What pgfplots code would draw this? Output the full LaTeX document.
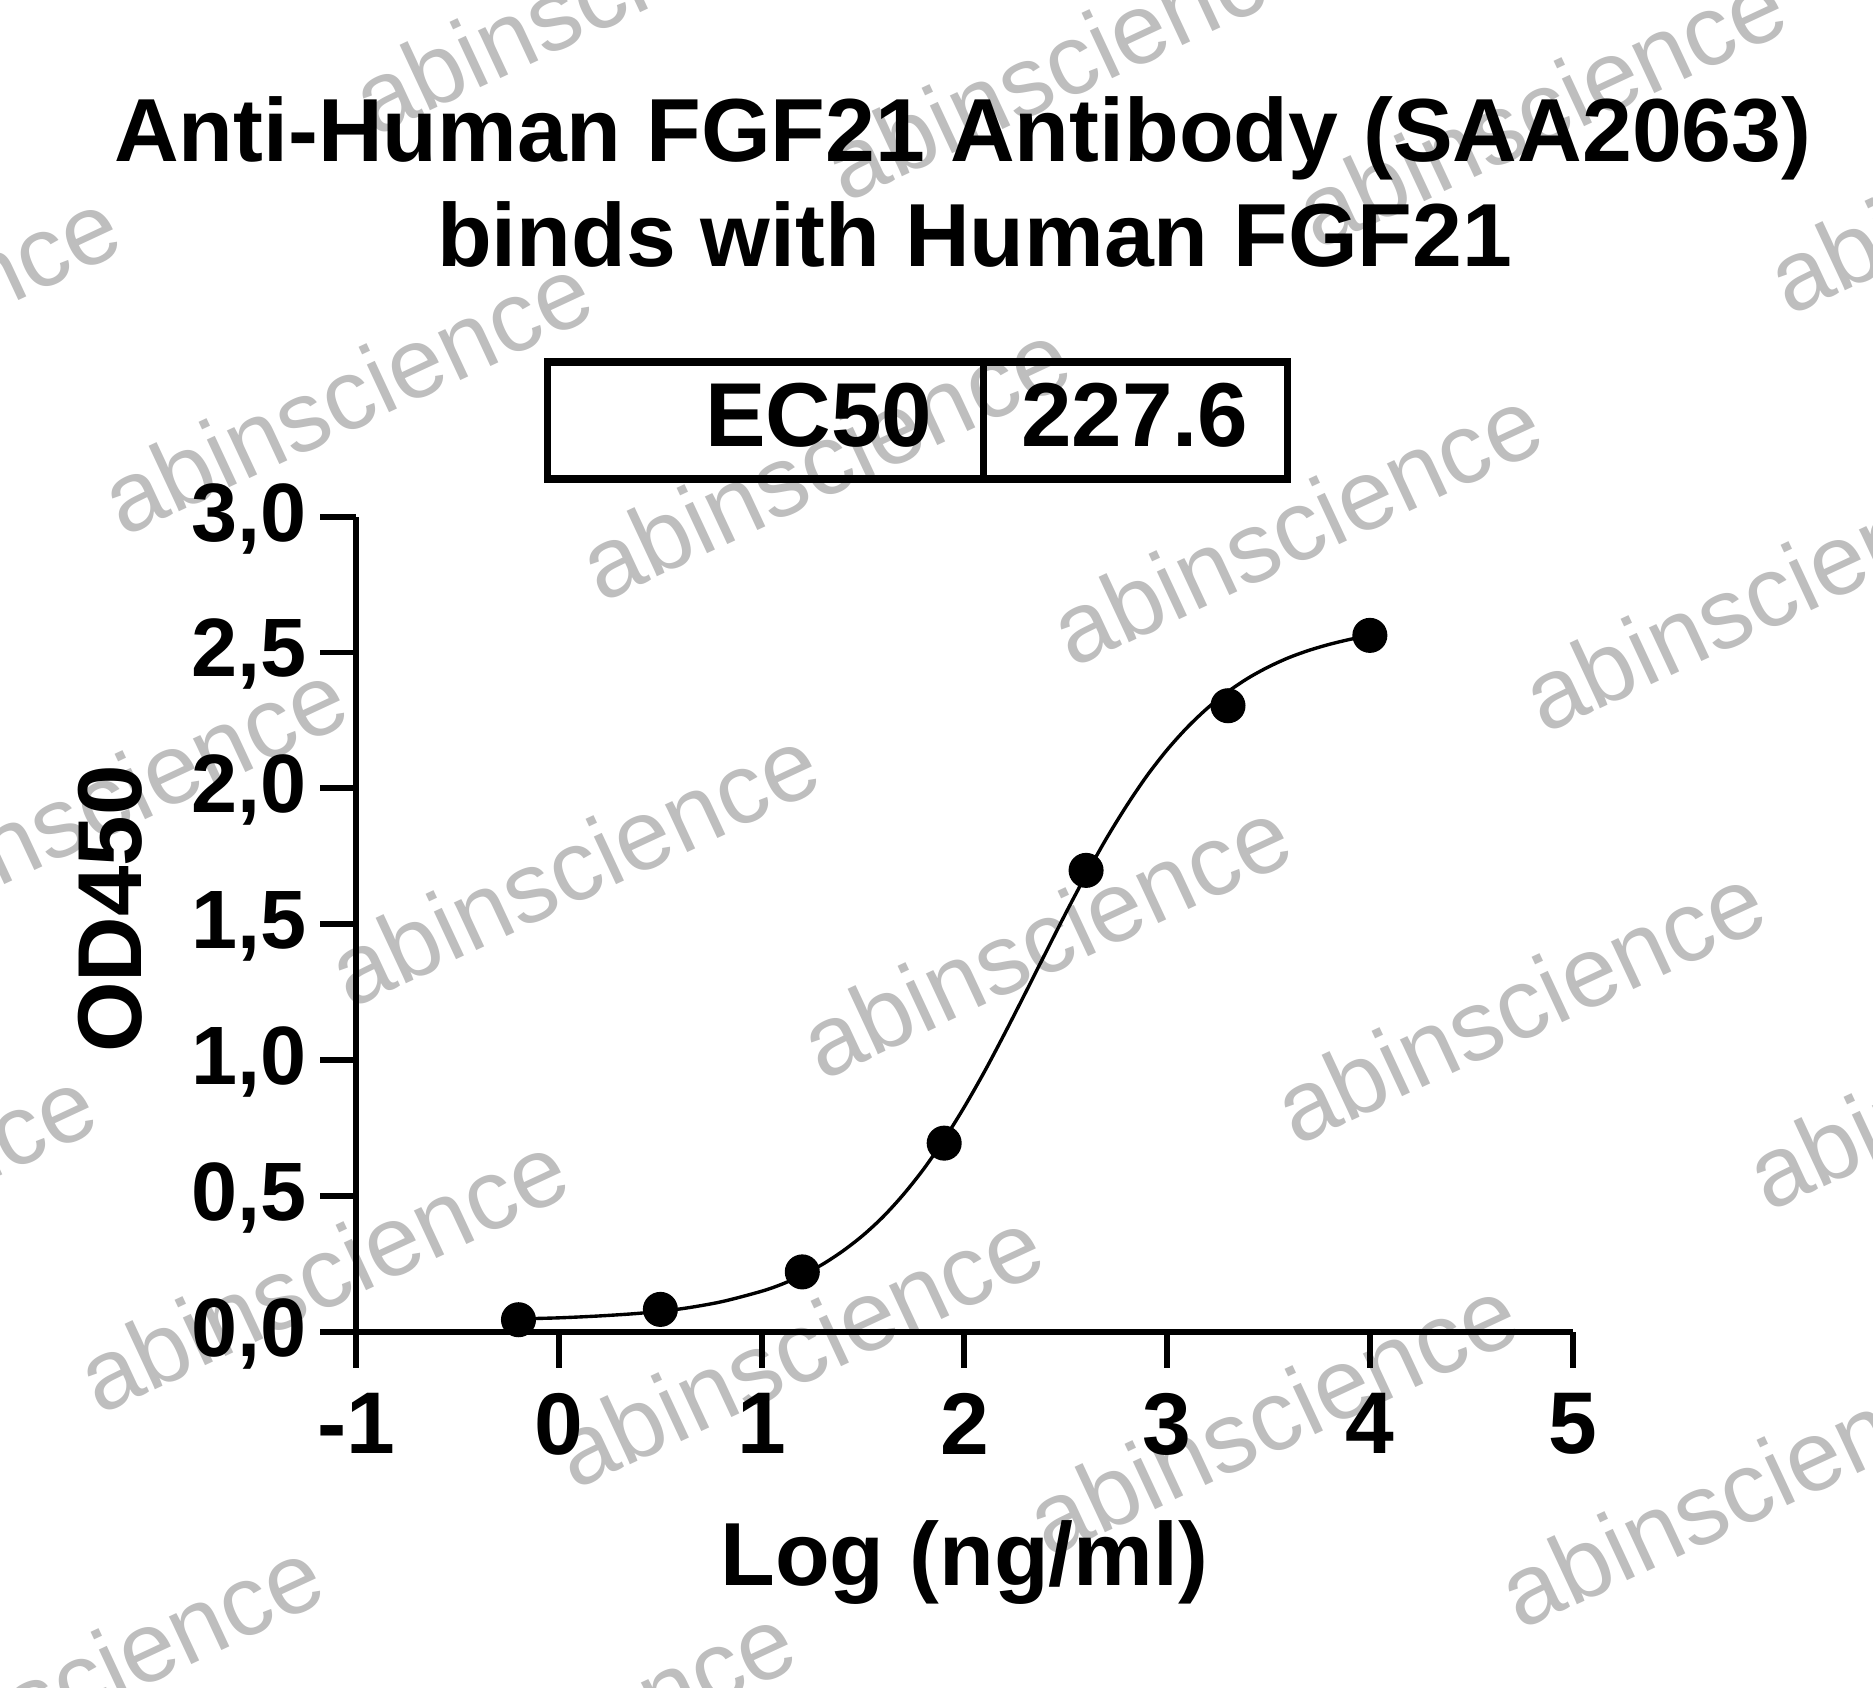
\documentclass[border=0pt]{standalone}
\usepackage{fontspec}
\setmainfont{Liberation Sans}
\usepackage{pgfplots}
\pgfplotsset{compat=1.18}
\definecolor{wm}{RGB}{190,190,190}
\begin{document}
\begin{tikzpicture}
\useasboundingbox (0,0) rectangle (470.4pt,-423.9pt);
% watermark
\begin{scope}
\clip (0,0) rectangle (470.4pt,-423.9pt);
\foreach \cx/\cy in {500/-5, 895/50, 1290/90, 1685/145,
  -105/275, 290/330, 690/385, 1085/440, 1480/495,
  85/670, 480/725, 875/785, 1272/840, 1667/895,
  -125/1010, 270/1065, 668/1128, 1065/1185, 1460/1245,
  65/1405, 460/1460, 855/1515}{
  \node[rotate=25, text=wm, inner sep=0pt, font=\fontsize{25}{30}\selectfont] at ({\cx*0.3pt},{(-1)*(\cy)*0.3pt}) {abinscience};
}
\end{scope}
\begin{axis}[
  at={(89.49pt,-334.44pt)}, anchor=south west,
  scale only axis, width=305.46pt, height=204.69pt,
  xmin=-1, xmax=5, ymin=0, ymax=3,
  axis x line*=bottom, axis y line*=left,
  axis line style={line width=1.5pt},
  every tick/.style={black, line width=1.5pt},
  tick align=outside, major tick length=9pt,
  xtick={-1,0,1,2,3,4,5}, xticklabels={-1,0,1,2,3,4,5},
  ytick={0,0.5,1,1.5,2,2.5,3},
  yticklabels={{0,0},{0,5},{1,0},{1,5},{2,0},{2,5},{3,0}},
  xticklabel style={font=\fontsize{22}{26}\selectfont\bfseries, yshift=-3pt},
  yticklabel style={font=\fontsize{20.8}{24}\selectfont\bfseries, yshift=-0.5pt},
  clip=false,
]
\addplot[smooth, black, line width=0.85pt, no marks] coordinates {
(-0.2,0.047) (0.0,0.051) (0.2,0.058) (0.4,0.068) (0.6,0.084) (0.8,0.110)
(1.0,0.149) (1.1,0.175) (1.2,0.208) (1.3,0.248) (1.4,0.297) (1.5,0.355)
(1.6,0.424) (1.7,0.506) (1.8,0.600) (1.9,0.708) (2.0,0.828) (2.1,0.959)
(2.2,1.100) (2.3,1.246) (2.4,1.394) (2.5,1.541) (2.6,1.682) (2.7,1.815)
(2.8,1.936) (2.9,2.046) (3.0,2.142) (3.1,2.225) (3.2,2.296) (3.3,2.356)
(3.4,2.406) (3.5,2.447) (3.6,2.481) (3.7,2.508) (3.8,2.530) (3.9,2.548)
(4.0,2.563)
};
\addplot[only marks, mark=*, mark size=4.2pt, black] coordinates {
(-0.2,0.044) (0.5,0.082) (1.2,0.220) (1.9,0.694) (2.6,1.698) (3.3,2.304) (4.0,2.563)
};
\end{axis}
% title
\node[anchor=base, inner sep=0pt, font=\fontsize{22.5}{27}\selectfont\bfseries] at (241.8pt,-40.62pt) {Anti-Human FGF21 Antibody (SAA2063)};
\node[anchor=base, inner sep=0pt, font=\fontsize{22.5}{27}\selectfont\bfseries] at (244.8pt,-66.99pt) {binds with Human FGF21};
% EC50 box
\draw[line width=1.8pt] (137.55pt,-90.9pt) rectangle (323.4pt,-120.3pt);
\draw[line width=1.8pt] (246.96pt,-90.9pt) -- (246.96pt,-120.3pt);
\node[anchor=base east, inner sep=0pt, font=\fontsize{22.8}{27}\selectfont\bfseries] at (234.3pt,-112.2pt) {EC50};
\node[anchor=base, inner sep=0pt, font=\fontsize{22.8}{27}\selectfont\bfseries] at (285pt,-112.2pt) {227.6};
% axis labels
\node[rotate=90, anchor=base, inner sep=0pt, font=\fontsize{22.8}{27}\selectfont\bfseries] at (35.58pt,-228.3pt) {OD450};
\node[anchor=base, inner sep=0pt, font=\fontsize{22.5}{27}\selectfont\bfseries] at (242.16pt,-398.07pt) {Log (ng/ml)};
\end{tikzpicture}
\end{document}
